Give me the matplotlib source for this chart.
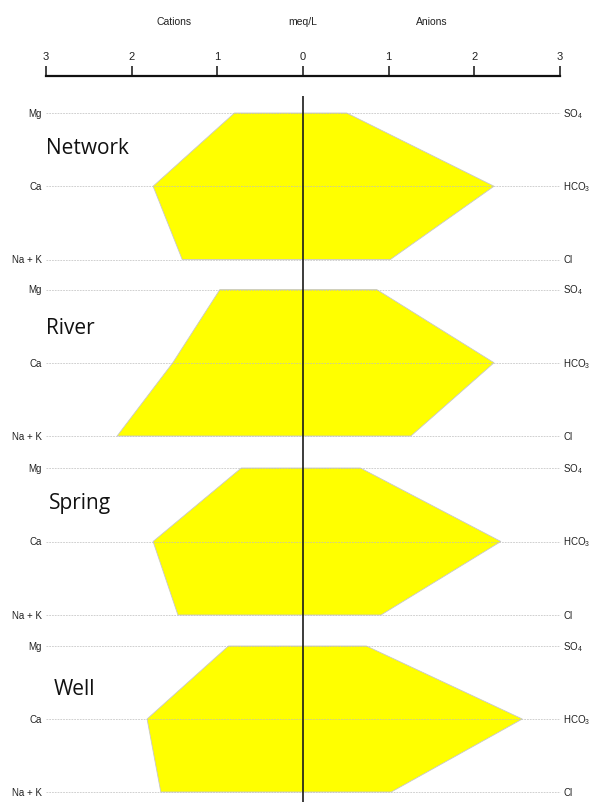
import matplotlib
matplotlib.use("Agg")
import matplotlib.pyplot as plt
from matplotlib.patches import Polygon

# ---- data (meq/L) ----
samples = ["Network", "River", "Spring", "Well"]
cation_labels = ["Mg", "Ca", "Na + K"]
anion_labels = [r"SO$_\mathregular{4}$", r"HCO$_\mathregular{3}$", "Cl"]
mg = [0.80, 0.97, 0.72, 0.87]
ca = [1.75, 1.52, 1.75, 1.82]
nak = [1.41, 2.17, 1.46, 1.66]
so4 = [0.51, 0.86, 0.67, 0.74]
hco3 = [2.23, 2.23, 2.31, 2.56]
cl = [1.02, 1.26, 0.91, 1.03]
tick_vals = [-3, -2, -1, 0, 1, 2, 3]
tick_text = ["3", "2", "1", "0", "1", "2", "3"]
header_pos = [-1.5, 0, 1.5]
header_text = ["Cations", "meq/L", "Anions"]

plt.rcParams["font.family"] = ["Liberation Sans", "DejaVu Sans"]
plt.rcParams["mathtext.fontset"] = "custom"
plt.rcParams["mathtext.rm"] = "Liberation Sans"

W, H = 592, 803
fig = plt.figure(figsize=(W / 100, H / 100), dpi=100)

x0, x1 = 46, 560


def fx(px):
    return px / W


def fy(py):
    return 1 - py / H


# ---- top scale axis ----
axs = fig.add_axes([fx(x0), fy(77.7), fx(x1 - x0), 0.001])
axs.set_xlim(-3, 3)
axs.set_ylim(0, 1)
for s in ["left", "right", "bottom"]:
    axs.spines[s].set_visible(False)
axs.spines["top"].set_linewidth(1.6)
axs.spines["top"].set_color("#111111")
axs.set_yticks([])
axs.xaxis.set_ticks_position("top")
axs.set_xticks(tick_vals)
axs.set_xticklabels(tick_text)
axs.tick_params(axis="x", direction="out", length=7.5, width=1.1, color="#111111",
                pad=3.5, labelsize=8, labelcolor="#222222")

# header row (pixel y = 22), x given in data units of the scale axis
header_ax = fig.add_axes([fx(x0), fy(30), fx(x1 - x0), 16 / H])
header_ax.set_xlim(-3, 3)
header_ax.set_ylim(0, 1)
header_ax.axis("off")
for xx, t in zip(header_pos, header_text):
    header_ax.text(xx, 0.5, t, ha="center", va="center", fontsize=7.5, color="#222222")

# ---- panels ----
panel_px = [(114, 260.5), (290.5, 437), (469, 616), (647, 793)]
title_pos = [(-3.0, 0.47), (-3.0, 0.52), (-2.96, 0.47), (-2.91, 0.58)]

for i, name in enumerate(samples):
    ytop, ybot = panel_px[i]
    ax = fig.add_axes([fx(x0), fy(ybot), fx(x1 - x0), (ybot - ytop) / H])
    ax.set_xlim(-3, 3)
    ax.set_ylim(2, 0)
    ax.axis("off")
    pts = [(-mg[i], 0), (-ca[i], 1), (-nak[i], 2), (cl[i], 2), (hco3[i], 1), (so4[i], 0)]
    ax.add_patch(Polygon(pts, closed=True, facecolor="#ffff00", edgecolor="#c8c8c8",
                         linewidth=0.6, clip_on=False, zorder=2))
    for k in range(3):
        ax.plot([-3, 3], [k, k], color="#bdbdbd", linewidth=0.5, linestyle=(0, (2.5, 1.5)),
                clip_on=False, zorder=3)
        ax.text(-3.05, k, cation_labels[k], ha="right", va="center", fontsize=7,
                color="#222222")
        ax.text(3.04, k, anion_labels[k], ha="left", va="center", fontsize=7,
                color="#222222")
    tx, ty = title_pos[i]
    ax.text(tx, ty, name, ha="left", va="center", fontsize=15, color="#111111",
            family=["Open Sans", "DejaVu Sans"])

# ---- central zero line ----
axl = fig.add_axes([fx(x0), 0, fx(x1 - x0), fy(97)])
axl.set_xlim(-3, 3)
axl.set_ylim(0, 1)
axl.axis("off")
axl.axvline(0, color="#1a1a1a", linewidth=1.2, zorder=5)

fig.savefig("out.png", dpi=100)
